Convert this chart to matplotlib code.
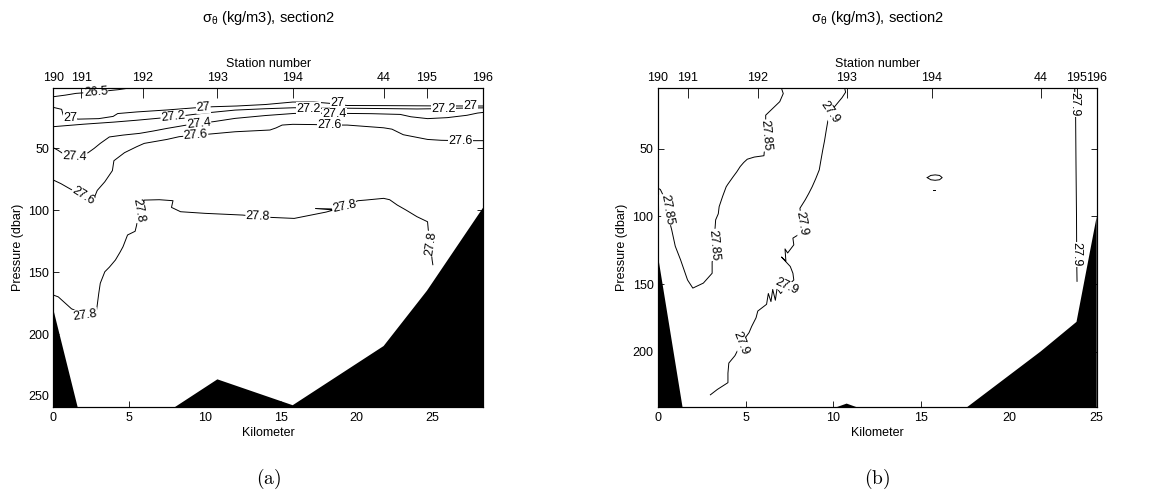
import matplotlib
matplotlib.use('Agg')
import matplotlib.pyplot as plt

plt.rcParams['font.family'] = ['Liberation Sans', 'DejaVu Sans']

W, H = 1168, 494

# ---------------- data: panel (a) ----------------
STATIONS = ['190', '191', '192', '193', '194', '44', '195', '196']
STATION_KM_A = [0.0, 1.85, 5.9, 10.83, 15.8, 21.8, 24.66, 28.36]
BOTTOM_A = [180, 271, 276, 236.6, 257.5, 209.7, 165, 98]
XMAX_A = 28.36
YLIM_A = (258.7, 1.5)
YTICKS_A = [50, 100, 150, 200, 250]

C265_A = [(0, 8.3), (0.8, 7.0), (1.5, 5.6), (2.3, 4.9), (2.8, 4.6), (3.5, 3.6), (4.3, 2.6), (4.9, 1.5)]
C270_A = [(0, 16.9), (0.55, 18.5), (0.65, 23), (0.75, 25.3), (1.1, 25.5), (1.65, 26.4), (3.0, 26.0),
          (3.95, 24.2), (4.25, 21.9), (5.5, 20.6), (7.5, 19.0), (9.3, 17.3), (9.9, 16.9), (10.5, 16.4),
          (12.1, 15.8), (14.0, 14.6), (15.8, 12.6), (17.2, 12.6), (18.2, 13.6), (18.7, 14.4),
          (19.4, 15.4), (22.0, 15.5), (25.0, 15.7), (27.5, 15.8), (28.36, 15.8)]
C272_A = [(0, 32.5), (2.0, 30.5), (4.0, 28.8), (5.5, 27.3), (6.84, 25.8), (7.9, 24.6), (8.6, 23.6),
          (10.0, 21.5), (12.0, 19.1), (14.0, 18.0), (15.9, 17.2), (16.85, 17.6), (17.7, 17.6),
          (19.4, 17.6), (22.0, 17.9), (24.0, 18.2), (25.7, 17.9), (27.0, 17.5), (28.36, 17.3)]
C274_A = [(0, 49.5), (0.3, 51.5), (0.8, 55.5), (1.4, 56.8), (2.3, 53.5), (2.7, 50), (3.1, 46),
          (3.7, 40.8), (4.6, 39.3), (5.7, 37.9), (6.6, 36), (7.5, 33.9), (8.8, 31.2), (9.6, 29.9),
          (10.6, 28.4), (12.0, 25.8), (14.0, 23.5), (15.9, 21.8), (17.5, 21.6), (18.55, 21.7),
          (19.4, 21.8), (21.0, 22.0), (22.9, 22.6), (23.6, 24.5), (24.7, 26.0), (26.0, 25.2),
          (27.3, 23.3), (28.0, 21.5), (28.36, 21.0)]
C276_A = [(0, 75.6), (0.5, 78.5), (1.0, 82), (1.95, 88.5), (2.7, 90), (2.9, 84), (3.4, 77), (3.9, 68),
          (4.0, 60), (4.7, 53.5), (5.5, 48.7), (6.0, 46), (7.5, 42.8), (8.3, 40.6), (9.4, 39.3),
          (10.2, 38.6), (12.0, 36.6), (14.3, 35.2), (14.7, 33.5), (15.1, 31.2), (15.8, 30.6),
          (17.25, 30.8), (18.25, 31.2), (19.4, 31.2), (21.8, 33.4), (22.35, 34.5), (23.1, 39.0),
          (24.7, 42.8), (25.6, 43.5), (26.9, 43.8), (28.36, 43.8)]
C278_A = [(0, 168.5), (0.33, 170), (1.2, 179.6), (2.1, 184.5), (2.85, 181), (2.9, 176.6), (3.0, 167.2),
          (3.1, 159), (3.4, 149.7), (3.7, 146), (4.1, 140.2), (4.4, 134), (4.6, 129.5), (4.9, 120),
          (5.4, 117), (5.5, 112), (5.6, 100), (6.0, 91.8), (7.0, 91.5), (7.9, 92.3), (7.8, 97.7),
          (8.4, 101.2), (10.0, 102.5), (12.5, 103.9), (13.5, 105.2), (14.4, 105.8), (15.9, 106.6),
          (18.0, 101.5), (18.5, 99.8), (17.3, 98.6), (18.5, 99.0), (19.2, 96.8), (20.1, 92.3),
          (20.6, 91.8), (21.8, 90.4), (22.2, 91.5), (22.7, 95.8), (23.3, 100), (24.0, 105.2),
          (24.7, 109.3), (24.75, 116), (24.9, 127), (25.0, 140), (25.05, 144)]
CONTOURS_A = [C265_A, C270_A, C272_A, C274_A, C276_A, C278_A]

LABELS_A = [(2.8, 4.6, '26.5', 4),
            (1.1, 25.5, '27', 0), (9.9, 16.9, '27', 4), (18.75, 13.6, '27', 0), (27.55, 15.8, '27', 0),
            (7.9, 24.6, '27.2', 6), (16.85, 17.9, '27.2', 0), (25.75, 17.9, '27.2', 0),
            (1.4, 56.8, '27.4', -3), (9.6, 29.9, '27.4', 6), (18.55, 22.3, '27.4', 0),
            (1.95, 88.5, '27.6', -32), (9.4, 39.3, '27.6', 4), (18.25, 31.3, '27.6', 0), (26.9, 43.8, '27.6', 0),
            (2.1, 184.5, '27.8', 8), (5.6, 100, '27.8', -80), (13.5, 105.2, '27.8', -2),
            (19.2, 96.8, '27.8', 12), (24.9, 127, '27.8', 82)]

# ---------------- data: panel (b) ----------------
STATION_KM_B = [0.0, 1.7, 5.69, 10.76, 15.6, 21.8, 23.85, 25.0]
BOTTOM_B = [128, 264, 262, 238.5, 261, 200, 178, 100]
XMAX_B = 25.0
YLIM_B = (240.8, 5.1)
YTICKS_B = [50, 100, 150, 200]

C2785_B = [(7.05, 5.1), (7.15, 9), (6.95, 15), (6.55, 20), (6.15, 25), (6.15, 40), (6.05, 55), (5.5, 56),
           (5.1, 57.6), (4.9, 60), (4.7, 63), (4.5, 67), (4.3, 70.5), (4.0, 76), (3.9, 78), (3.7, 85),
           (3.5, 92.7), (3.45, 98), (3.3, 102.5), (3.2, 121), (3.1, 134), (3.1, 142), (2.6, 149.3),
           (2.0, 153), (1.85, 150), (1.7, 147), (1.3, 132), (1.0, 122), (0.8, 110), (0.5, 95),
           (0.3, 84), (0.15, 80), (0, 79)]
C279_B = [(10.65, 5.1), (10.7, 8), (10.5, 12), (9.8, 23), (9.7, 28.5), (9.6, 36), (9.5, 44), (9.4, 50.7),
          (9.3, 58), (9.2, 65.5), (9.0, 72), (8.8, 77.9), (8.6, 83), (8.4, 87.7), (8.1, 93.9), (8.2, 105),
          (8.0, 113.6), (7.7, 116), (7.75, 121), (7.4, 127), (7.25, 124), (7.3, 133), (7.05, 130),
          (7.55, 137), (7.7, 142), (7.75, 147), (7.35, 152), (7.0, 157), (6.8, 153), (6.7, 162),
          (6.55, 154), (6.45, 163), (6.3, 157), (6.2, 165), (5.9, 168), (5.7, 170), (5.6, 175),
          (5.35, 181.4), (5.2, 186), (4.75, 194), (4.4, 203), (4.05, 208.5), (4.0, 216), (4.0, 223),
          (3.4, 228), (3.0, 232)]
C279R_B = [(23.75, 5.1), (23.75, 17), (23.8, 27), (23.82, 60), (23.85, 100), (23.86, 128),
           (23.87, 140), (23.88, 148)]
C279S_B = [(15.35, 71.2), (15.55, 69.6), (15.8, 69.2), (16.05, 69.6), (16.2, 71.2), (16.05, 72.8),
           (15.8, 73.2), (15.55, 72.8), (15.35, 71.2)]
C279D_B = [(15.68, 80.2), (15.8, 80.2)]
CONTOURS_B = [C2785_B, C279_B, C279R_B, C279S_B, C279D_B]

LABELS_B = [(6.15, 40, '27.85', -85), (3.2, 121, '27.85', -85), (0.5, 95, '27.85', -80),
            (9.8, 23, '27.9', -55), (8.2, 105, '27.9', -80), (7.35, 152, '27.9', -25),
            (4.75, 194, '27.9', -68), (23.75, 17, '27.9', -90), (23.86, 128, '27.9', -90)]

TITLE = r'σ$_{\mathregular{θ}}$ (kg/m3), section2'

FS = 9


def panel(rect, km, bottom, xmax, ylim, yticks, contours, labels, tag):
    ax = fig.add_axes(rect)
    ax.fill_between(km, bottom, 3000, color='black', lw=0, zorder=1)
    for c in contours:
        xs, ys = zip(*c)
        ax.plot(xs, ys, color='black', lw=0.7, zorder=2)
    for x, y, s, r in labels:
        ax.text(x, y, s, rotation=r, ha='center', va='center', rotation_mode='anchor',
                fontsize=FS, zorder=3,
                bbox=dict(boxstyle='square,pad=0.03', fc='white', ec='none'))
    ax.set_xlim(0, xmax)
    ax.set_ylim(*ylim)
    ax.set_xticks([0, 5, 10, 15, 20, 25])
    ax.set_yticks(yticks)
    ax.tick_params(direction='in', length=4, width=0.6, top=True, right=True,
                   labelsize=FS, pad=4)
    ax.tick_params(axis='y', pad=3)
    ax.set_xlabel('Kilometer', fontsize=FS, labelpad=2)
    ax.set_ylabel('Pressure (dbar)', fontsize=FS, labelpad=3)
    for s in ax.spines.values():
        s.set_linewidth(0.8)
    ax2 = ax.twiny()
    ax2.set_xlim(0, xmax)
    ax2.set_xticks(km)
    ax2.set_xticklabels(STATIONS)
    ax2.tick_params(direction='in', length=7, width=0.6, labelsize=FS, pad=3)
    ax2.set_xlabel('Station number', fontsize=FS, labelpad=4)
    cx = rect[0] + rect[2] / 2
    fig.text(cx, 1 - 18 / H, TITLE, ha='center', va='center', fontsize=10.5)
    fig.text(cx, 1 - 479 / H, r'$\mathrm{(%s)}$' % tag, ha='center', va='center',
             fontsize=14, math_fontfamily='cm')
    return ax


fig = plt.figure(figsize=(W / 100, H / 100), dpi=100)
top, bot = 88.3, 406.7
panel([53.3 / W, 1 - bot / H, (483 - 53.3) / W, (bot - top) / H],
      STATION_KM_A, BOTTOM_A, XMAX_A, YLIM_A, YTICKS_A, CONTOURS_A, LABELS_A, 'a')
panel([657.7 / W, 1 - bot / H, (1096.7 - 657.7) / W, (bot - top) / H],
      STATION_KM_B, BOTTOM_B, XMAX_B, YLIM_B, YTICKS_B, CONTOURS_B, LABELS_B, 'b')

fig.savefig('out.png', dpi=100, facecolor='white')
